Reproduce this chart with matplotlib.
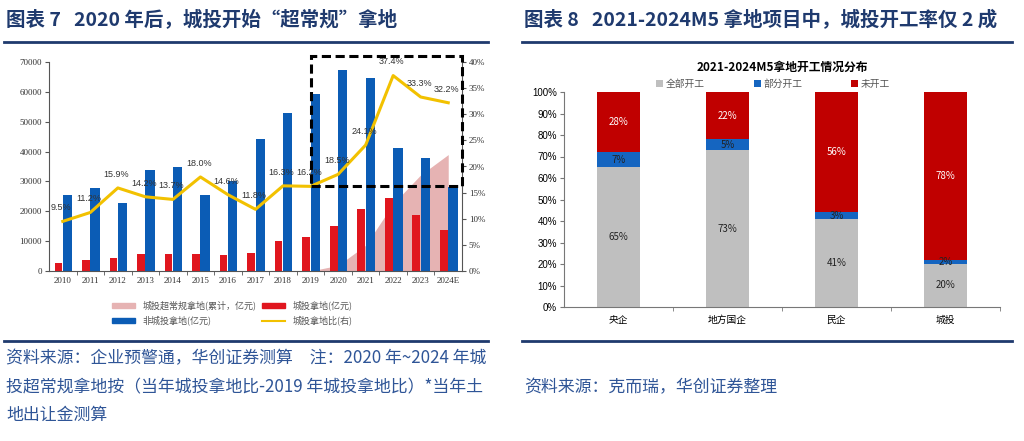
import matplotlib
matplotlib.use("Agg")
import matplotlib.pyplot as plt
from matplotlib.patches import Rectangle, Patch
from matplotlib.lines import Line2D

plt.rcParams['font.family'] = ['Noto Sans CJK SC', 'DejaVu Sans']

# ---- left chart data ----
years = ['2010', '2011', '2012', '2013', '2014', '2015', '2016', '2017',
         '2018', '2019', '2020', '2021', '2022', '2023', '2024E']
ct_land = [2700, 3600, 4500, 5800, 5600, 5800, 5300, 6100,
           10100, 11500, 15200, 20600, 24500, 18800, 13800]
non_ct_land = [25500, 27800, 22700, 33900, 35000, 25500, 30000, 44200,
               52900, 59400, 67200, 64700, 41100, 37900, 28300]
ct_ratio = [9.5, 11.2, 15.9, 14.2, 13.7, 18.0, 14.6, 11.8,
            16.3, 16.2, 18.5, 24.1, 37.4, 33.3, 32.2]
extra_years = ['2019', '2020', '2021', '2022', '2023', '2024E']
extra_cum = [0, 1900, 8600, 22500, 32200, 39000]

# ---- right chart data ----
owners = ['央企', '地方国企', '民企', '城投']
all_started = [65, 73, 41, 20]
part_started = [7, 5, 3, 2]
not_started = [28, 22, 56, 78]

NAVY = '#1F3A6E'
NOTE = '#2F5597'
W, H = 1024, 441

fig = plt.figure(figsize=(W / 100, H / 100), dpi=100)
fig.patch.set_facecolor('white')


def px(x0, y0, x1, y1):
    return [x0 / W, 1 - y1 / H, (x1 - x0) / W, (y1 - y0) / H]


# titles and rules
fig.text(6 / W, 1 - 20 / H, '图表 7   2020 年后，城投开始“超常规”拿地', color=NAVY,
         fontsize=14, fontweight='bold', va='center')
fig.text(524 / W, 1 - 20 / H, '图表 8   2021-2024M5 拿地项目中，城投开工率仅 2 成', color=NAVY,
         fontsize=14, fontweight='bold', va='center')
for x0, x1 in [(4, 488), (522, 1012)]:
    fig.add_artist(Line2D([x0 / W, x1 / W], [1 - 42 / H] * 2, color=NAVY, lw=2))
    fig.add_artist(Line2D([x0 / W, x1 / W], [1 - 341 / H] * 2, color=NAVY, lw=2))

# ---- left chart ----
ax = fig.add_axes(px(49, 62, 462, 271))
ax2 = ax.twinx()
xs = list(range(len(years)))
ex_x = [years.index(y) for y in extra_years]
ax.fill_between(ex_x, 0, extra_cum, color='#E6B3B3', lw=0, zorder=1)
ax.bar([x - 0.16 for x in xs], ct_land, width=0.28, color='#E0161E', zorder=2)
ax.bar([x + 0.17 for x in xs], non_ct_land, width=0.34, color='#0B5CB5', zorder=2)
ax.set_xlim(-0.5, len(years) - 0.5)
ax.set_ylim(0, 70000)
ax.set_yticks(range(0, 70001, 10000))
ax.set_xticks(xs)
ax.set_xticklabels(years)
ax.set_xticks([x + 0.5 for x in xs[:-1]], minor=True)
ax.tick_params(axis='x', which='major', length=0, pad=4)
ax.tick_params(axis='x', which='minor', length=3, color='#555555')
for lab in ax.get_xticklabels() + ax.get_yticklabels():
    lab.set_fontfamily('Liberation Serif')
    lab.set_fontsize(6.5)
    lab.set_color('#333333')
ax.tick_params(axis='y', length=3, color='#555555', pad=2)
for s in ['top', 'right']:
    ax.spines[s].set_visible(False)
for s in ['left', 'bottom']:
    ax.spines[s].set_color('#555555')
    ax.spines[s].set_linewidth(0.8)

ax2.plot(xs, ct_ratio, color='#F2C100', lw=2.2, zorder=3)
for x, v in zip(xs, ct_ratio):
    ax2.text(x - 0.05, v + 2.6, f'{v:.1f}%', ha='center', va='center', fontsize=6.5,
             color='#333333', fontfamily='Liberation Sans')
ax2.set_ylim(0, 40)
ax2.set_yticks(range(0, 41, 5))
ax2.set_yticklabels([f'{t}%' for t in range(0, 41, 5)])
for lab in ax2.get_yticklabels():
    lab.set_fontfamily('Liberation Serif')
    lab.set_fontsize(6.5)
    lab.set_color('#333333')
ax2.tick_params(axis='y', length=3, color='#555555', pad=2)
for s in ['top', 'left', 'bottom']:
    ax2.spines[s].set_visible(False)
ax2.spines['right'].set_color('#555555')
ax2.spines['right'].set_linewidth(0.8)

i19 = years.index('2019')
ax2.add_patch(Rectangle((i19, ct_ratio[i19]), len(years) - 0.5 - i19,
                        41.2 - ct_ratio[i19], fill=False, ls=(0, (3, 1.5)),
                        lw=2.2, edgecolor='black', clip_on=False, zorder=5))

# column-major fill: row 1 = pink, red ; row 2 = blue, yellow
handles = [Patch(color='#E6B3B3', label='城投超常规拿地(累计，亿元)'),
           Patch(color='#0B5CB5', label='非城投拿地(亿元)'),
           Patch(color='#E0161E', label='城投拿地(亿元)'),
           Line2D([], [], color='#F2C100', lw=1.5, label='城投拿地比(右)')]
fig.legend(handles=handles, ncol=2, loc='center', bbox_to_anchor=(232 / W, 1 - 313 / H),
           frameon=False, fontsize=6.5, handlelength=2.6, handleheight=0.5,
           columnspacing=0.6, labelspacing=0.6, labelcolor='#555555')

fig.text(6 / W, 1 - 358 / H, '资料来源：企业预警通，华创证券测算　注：2020 年~2024 年城',
         color=NOTE, fontsize=12.2, va='center')
fig.text(6 / W, 1 - 387 / H, '投超常规拿地按（当年城投拿地比-2019 年城投拿地比）*当年土',
         color=NOTE, fontsize=12.2, va='center')
fig.text(6 / W, 1 - 415 / H, '地出让金测算', color=NOTE, fontsize=12.2, va='center')

# ---- right chart ----
bx = fig.add_axes(px(564, 92, 1000, 307))
ox = list(range(len(owners)))
bw = 0.4
bx.bar(ox, all_started, width=bw, color='#BFBFBF', label='全部开工')
bx.bar(ox, part_started, width=bw, bottom=all_started, color='#1565C0', label='部分开工')
bot2 = [a + b for a, b in zip(all_started, part_started)]
bx.bar(ox, not_started, width=bw, bottom=bot2, color='#C00000', label='未开工')
for x, a, p, n, b2 in zip(ox, all_started, part_started, not_started, bot2):
    bx.text(x, a / 2, f'{a}%', ha='center', va='center', fontsize=7, color='#222222')
    bx.text(x, a + p / 2, f'{p}%', ha='center', va='center', fontsize=7, color='#222222')
    bx.text(x, b2 + n / 2, f'{n}%', ha='center', va='center', fontsize=7, color='white')
bx.set_xlim(-0.5, len(owners) - 0.5)
bx.set_ylim(0, 100)
bx.set_yticks(range(0, 101, 10))
bx.set_yticklabels([f'{t}%' for t in range(0, 101, 10)])
bx.set_xticks(ox)
bx.set_xticklabels(owners)
bx.set_xticks([x + 0.5 for x in ox], minor=True)
bx.tick_params(axis='x', which='major', length=0, labelsize=7, pad=6)
bx.tick_params(axis='x', which='minor', length=3, color='#777777')
bx.tick_params(axis='y', length=3, color='#777777', labelsize=7, pad=2)
for lab in bx.get_yticklabels():
    lab.set_fontfamily('Liberation Sans')
for s in ['top', 'right']:
    bx.spines[s].set_visible(False)
for s in ['left', 'bottom']:
    bx.spines[s].set_color('#777777')
    bx.spines[s].set_linewidth(0.8)
bx.set_title('2021-2024M5拿地开工情况分布', fontsize=8.5, fontweight='bold', pad=15)
bx.legend(ncol=3, loc='lower center', bbox_to_anchor=(0.48, 0.975), frameon=False,
          fontsize=7, handlelength=0.7, handleheight=0.7, columnspacing=5,
          handletextpad=0.3, labelcolor='#555555')

fig.text(524 / W, 1 - 387 / H, '资料来源：克而瑞，华创证券整理', color=NOTE,
         fontsize=12.2, va='center')

fig.savefig('out.png', dpi=100)
